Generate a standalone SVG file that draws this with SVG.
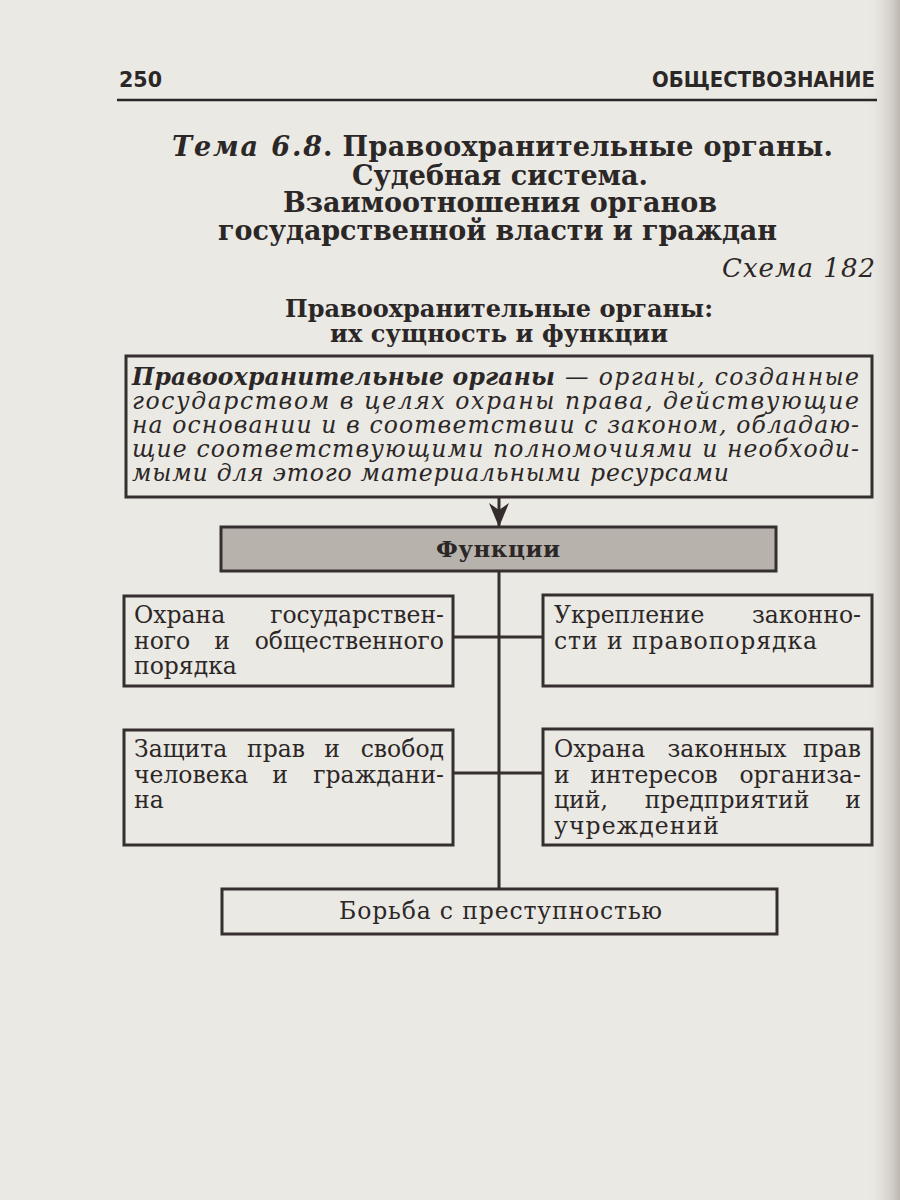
<svg xmlns="http://www.w3.org/2000/svg" width="900" height="1200" viewBox="0 0 900 1200">
<defs>
<linearGradient id="curl" x1="0" y1="0" x2="1" y2="0">
<stop offset="0" stop-color="#ebe9e4" stop-opacity="0"/>
<stop offset="1" stop-color="#bdb8b1"/>
</linearGradient>
<marker id="ah" viewBox="0 0 24 20" refX="24" refY="10" markerWidth="24" markerHeight="20" markerUnits="userSpaceOnUse" orient="auto">
<path d="M0,0 L7,10 L0,20 L24,10 Z" fill="#332d2d"/>
</marker>
<style>
.box{fill:none;stroke:#352f2f;stroke-width:3}
.gray{fill:#b8b2ad;stroke:#352f2f;stroke-width:3}
.con{fill:none;stroke:#352f2f;stroke-width:3}
.t{font-family:"DejaVu Serif","Liberation Serif",serif;fill:#2c2727}
.title{font-size:27px;font-weight:bold}
.sub{font-size:24px;font-weight:bold}
.body{font-size:23.5px}
.def{font-size:23.5px;font-style:italic}
.e{text-anchor:end}
.m{text-anchor:middle}
.hdr{font-family:"DejaVu Sans","Liberation Sans",sans-serif;font-weight:bold;font-size:21px;fill:#2c2727}
</style>
</defs>
<rect x="0" y="0" width="900" height="1200" fill="#ebe9e4"/>
<rect x="866" y="0" width="34" height="1200" fill="url(#curl)"/>

<g id="header">
<text class="hdr" x="119" y="87" textLength="43" lengthAdjust="spacingAndGlyphs">250</text>
<text class="hdr" x="875" y="87" text-anchor="end" textLength="223" lengthAdjust="spacingAndGlyphs">ОБЩЕСТВОЗНАНИЕ</text>
<line x1="117" y1="100" x2="877" y2="100" stroke="#2c2727" stroke-width="2.5"/>
</g>

<g id="title">
<text class="t title" x="172" y="156" font-style="italic" textLength="150" lengthAdjust="spacing">Тема 6.8</text>
<text class="t title" x="323" y="156" textLength="510" lengthAdjust="spacing">. Правоохранительные органы.</text>
<text class="t title" x="352" y="185" textLength="296" lengthAdjust="spacing">Судебная система.</text>
<text class="t title" x="283" y="212" textLength="434" lengthAdjust="spacing">Взаимоотношения органов</text>
<text class="t title" x="218" y="240" textLength="559" lengthAdjust="spacing">государственной власти и граждан</text>
<text class="t" x="722" y="277" font-size="26" font-style="italic" textLength="153" lengthAdjust="spacing">Схема 182</text>
<text class="t sub" x="285" y="317" textLength="428" lengthAdjust="spacing">Правоохранительные органы:</text>
<text class="t sub" x="330" y="342" textLength="338" lengthAdjust="spacing">их сущность и функции</text>
</g>

<g id="connectors">
<line class="con" x1="499" y1="497" x2="499" y2="527" marker-end="url(#ah)"/>
<line class="con" x1="499" y1="571" x2="499" y2="889"/>
<line class="con" x1="453" y1="637" x2="543" y2="637"/>
<line class="con" x1="453" y1="773" x2="543" y2="773"/>
</g>

<g id="definition">
<rect class="box" x="126" y="356" width="746" height="141"/>
<text class="t def" x="132" y="385" font-weight="bold" textLength="423" lengthAdjust="spacing">Правоохранительные органы</text>
<text class="t def" x="565" y="385" textLength="294" lengthAdjust="spacing">— органы, созданные</text>
<text class="t def" x="132" y="409" textLength="727" lengthAdjust="spacing">государством в целях охраны права, действующие</text>
<text class="t def" x="132" y="433" textLength="727" lengthAdjust="spacing">на основании и в соответствии с законом, обладаю-</text>
<text class="t def" x="132" y="457" textLength="727" lengthAdjust="spacing">щие соответствующими полномочиями и необходи-</text>
<text class="t def" x="132" y="481" textLength="597" lengthAdjust="spacing">мыми для этого материальными ресурсами</text>
</g>

<g id="functions">
<rect class="gray" x="221" y="527" width="555" height="44"/>
<text class="t" x="436" y="557" font-size="23" font-weight="bold" textLength="124" lengthAdjust="spacing">Функции</text>
</g>

<g id="f1">
<rect class="box" x="124" y="596" width="329" height="90"/>
<text class="t body" x="134" y="623">Охрана</text>
<text class="t body e" x="444" y="623">государствен-</text>
<text class="t body" x="134" y="649">ного</text>
<text class="t body m" x="222" y="649">и</text>
<text class="t body e" x="444" y="649">общественного</text>
<text class="t body" x="134" y="674">порядка</text>
</g>

<g id="f2">
<rect class="box" x="543" y="595" width="329" height="91"/>
<text class="t body" x="554" y="623">Укрепление</text>
<text class="t body e" x="861" y="623">законно-</text>
<text class="t body" x="554" y="649" textLength="263" lengthAdjust="spacing">сти и правопорядка</text>
</g>

<g id="f3">
<rect class="box" x="124" y="730" width="329" height="115"/>
<text class="t body" x="134" y="757">Защита</text>
<text class="t body m" x="276" y="757">прав</text>
<text class="t body m" x="332" y="757">и</text>
<text class="t body e" x="444" y="757">свобод</text>
<text class="t body" x="134" y="783">человека</text>
<text class="t body m" x="280" y="783">и</text>
<text class="t body e" x="444" y="783">граждани-</text>
<text class="t body" x="134" y="808">на</text>
</g>

<g id="f4">
<rect class="box" x="543" y="729" width="329" height="116"/>
<text class="t body" x="554" y="757">Охрана</text>
<text class="t body m" x="727" y="757">законных</text>
<text class="t body e" x="861" y="757">прав</text>
<text class="t body" x="554" y="783">и</text>
<text class="t body m" x="654" y="783">интересов</text>
<text class="t body e" x="861" y="783">организа-</text>
<text class="t body" x="554" y="808">ций,</text>
<text class="t body m" x="727" y="808">предприятий</text>
<text class="t body e" x="861" y="808">и</text>
<text class="t body" x="554" y="834" textLength="165" lengthAdjust="spacing">учреждений</text>
</g>

<g id="f5">
<rect class="box" x="222" y="889" width="555" height="45"/>
<text class="t body" x="339" y="919" textLength="323" lengthAdjust="spacing">Борьба с преступностью</text>
</g>
</svg>
